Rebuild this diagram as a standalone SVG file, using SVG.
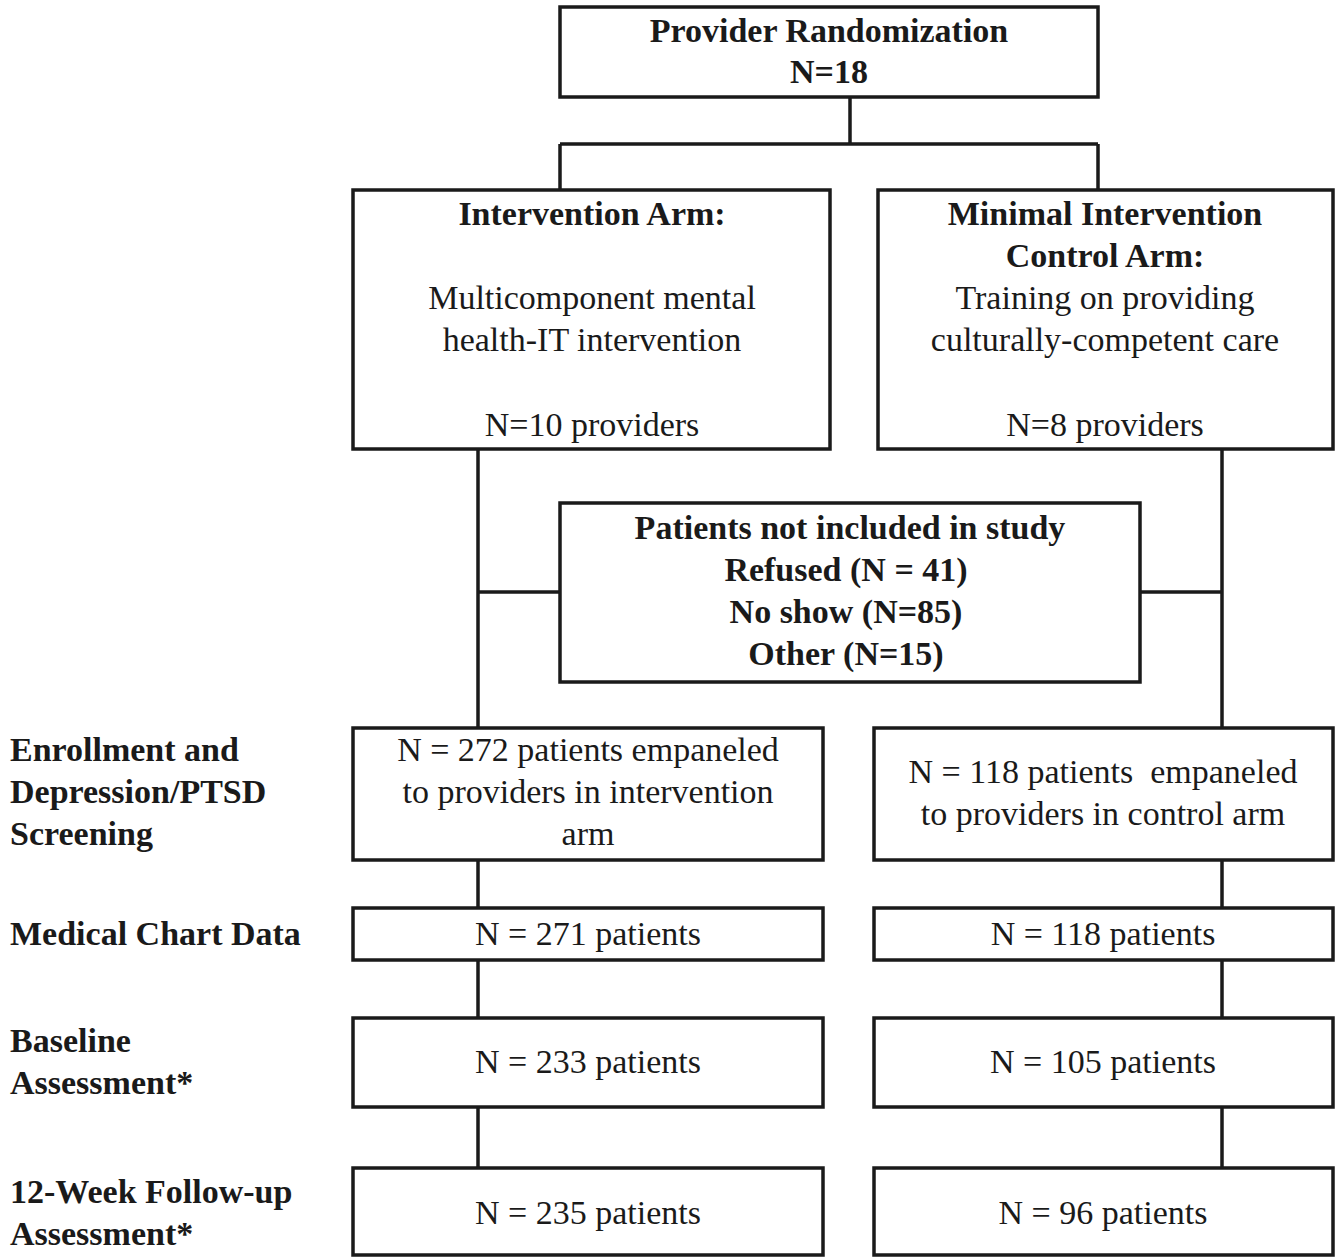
<svg xmlns="http://www.w3.org/2000/svg" width="1342" height="1260" viewBox="0 0 1342 1260">
<style>
.box{fill:#fff;stroke:#1a1a1a;stroke-width:3.5}
.ln{fill:none;stroke:#1a1a1a;stroke-width:3.5}
text{font-family:"Liberation Serif","Times New Roman",serif;font-size:34px;fill:#1a1a1a}
.c{text-anchor:middle}
.b{font-weight:bold}
.pre{white-space:pre}
</style>
<rect width="1342" height="1260" fill="#fff"/>
<g id="connectors">
<path class="ln" d="M850,97 V144 M560,144 H1098 M560,144 V190 M1098,144 V190"/>
<path class="ln" d="M478,449 V728 M1222,449 V728 M478,592 H560 M1140,592 H1222"/>
<path class="ln" d="M478,860 V908 M1222,860 V908 M478,960 V1018 M1222,960 V1018 M478,1107 V1168 M1222,1107 V1168"/>
</g>
<g id="randomization">
<rect class="box" x="560" y="7" width="538" height="90"/>
<text class="c b" x="829" y="42">Provider Randomization</text>
<text class="c b" x="829" y="83">N=18</text>
</g>
<g id="intervention-arm">
<rect class="box" x="353" y="190" width="477" height="259"/>
<text class="c b" x="592" y="225">Intervention Arm:</text>
<text class="c" x="592" y="309">Multicomponent mental</text>
<text class="c" x="592" y="351">health-IT intervention</text>
<text class="c" x="592" y="436">N=10 providers</text>
</g>
<g id="control-arm">
<rect class="box" x="878" y="190" width="455" height="259"/>
<text class="c b" x="1105" y="225">Minimal Intervention</text>
<text class="c b" x="1105" y="267">Control Arm:</text>
<text class="c" x="1105" y="309">Training on providing</text>
<text class="c" x="1105" y="351">culturally-competent care</text>
<text class="c" x="1105" y="436">N=8 providers</text>
</g>
<g id="not-included">
<rect class="box" x="560" y="503" width="580" height="179"/>
<text class="c b" x="850" y="539">Patients not included in study</text>
<text class="c b" x="846" y="581">Refused (N = 41)</text>
<text class="c b" x="846" y="623">No show (N=85)</text>
<text class="c b" x="846" y="665">Other (N=15)</text>
</g>
<g id="label-enrollment">
<text class="b" x="10" y="761">Enrollment and</text>
<text class="b" x="10" y="803">Depression/PTSD</text>
<text class="b" x="10" y="845">Screening</text>
</g>
<g id="enroll-intervention">
<rect class="box" x="353" y="728" width="470" height="132"/>
<text class="c" x="588" y="761">N = 272 patients empaneled</text>
<text class="c" x="588" y="803">to providers in intervention</text>
<text class="c" x="588" y="845">arm</text>
</g>
<g id="enroll-control">
<rect class="box" x="874" y="728" width="459" height="132"/>
<text class="c pre" x="1103" y="783" xml:space="preserve">N = 118 patients  empaneled</text>
<text class="c" x="1103" y="825">to providers in control arm</text>
</g>
<g id="label-chart">
<text class="b" x="10" y="945">Medical Chart Data</text>
</g>
<g id="chart-intervention">
<rect class="box" x="353" y="908" width="470" height="52"/>
<text class="c" x="588" y="945">N = 271 patients</text>
</g>
<g id="chart-control">
<rect class="box" x="874" y="908" width="459" height="52"/>
<text class="c" x="1103" y="945">N = 118 patients</text>
</g>
<g id="label-baseline">
<text class="b" x="10" y="1052">Baseline</text>
<text class="b" x="10" y="1094">Assessment*</text>
</g>
<g id="baseline-intervention">
<rect class="box" x="353" y="1018" width="470" height="89"/>
<text class="c" x="588" y="1073">N = 233 patients</text>
</g>
<g id="baseline-control">
<rect class="box" x="874" y="1018" width="459" height="89"/>
<text class="c" x="1103" y="1073">N = 105 patients</text>
</g>
<g id="label-followup">
<text class="b" x="10" y="1203">12-Week Follow-up</text>
<text class="b" x="10" y="1245">Assessment*</text>
</g>
<g id="followup-intervention">
<rect class="box" x="353" y="1168" width="470" height="87"/>
<text class="c" x="588" y="1224">N = 235 patients</text>
</g>
<g id="followup-control">
<rect class="box" x="874" y="1168" width="459" height="87"/>
<text class="c" x="1103" y="1224">N = 96 patients</text>
</g>
</svg>
